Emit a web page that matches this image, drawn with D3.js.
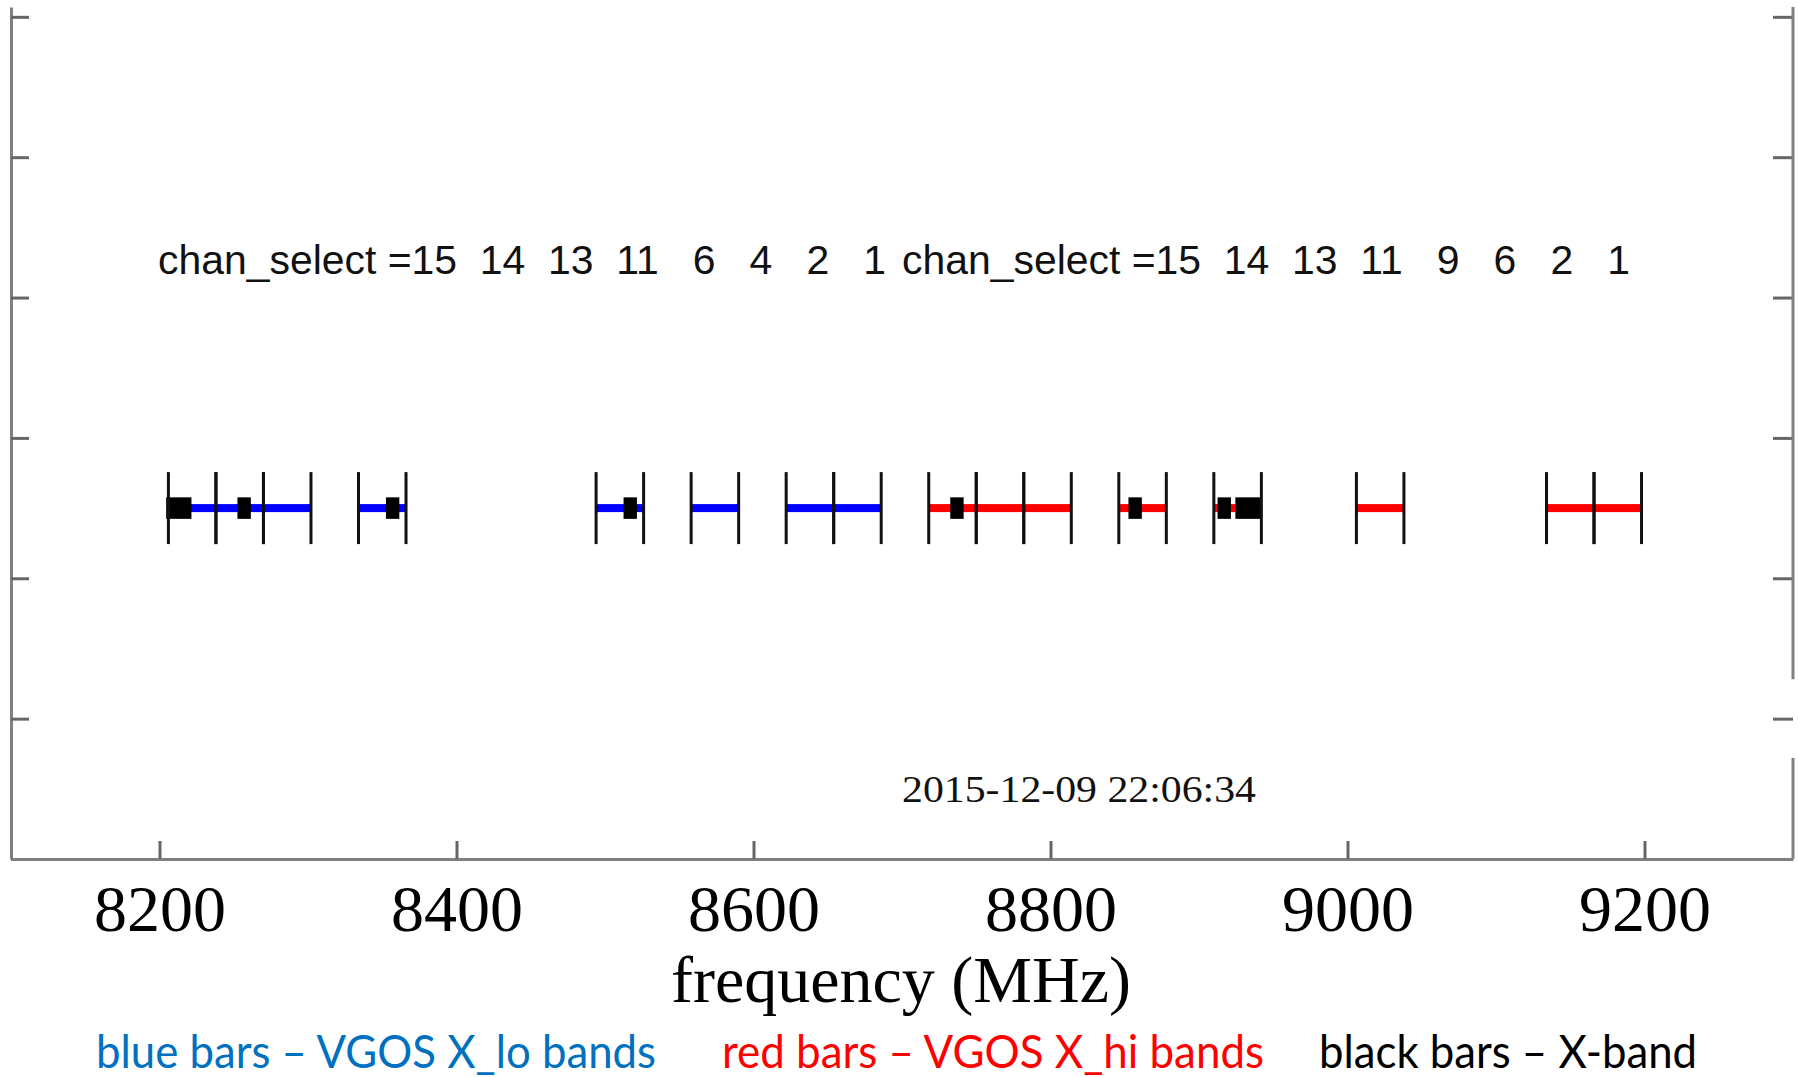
<!DOCTYPE html>
<html>
<head>
<meta charset="utf-8">
<script src="https://cdn.jsdelivr.net/npm/d3@7"></script>
<style>
  html, body { margin: 0; padding: 0; background: #fff; }
  svg { display: block; }
</style>
</head>
<body>
<div id="chart"></div>
<script>
// VGOS X_lo channels (MHz, lower / upper edge)
var loBands = [[8206, 8238], [8238, 8270], [8270, 8302], [8334, 8366],
               [8494, 8526], [8558, 8590], [8622, 8654], [8654, 8686]];
// VGOS X_hi channels
var hiBands = [[8718, 8750], [8750, 8782], [8782, 8814], [8846, 8878],
               [8910, 8942], [9006, 9038], [9134, 9166], [9166, 9198]];
// legacy X-band channels
var xBands = [[8205, 8221], [8253, 8261], [8353, 8361], [8513, 8521],
              [8733, 8741], [8853, 8861], [8913, 8921], [8925, 8941]];

var loChans = [15, 14, 13, 11, 6, 4, 2, 1];
var hiChans = [15, 14, 13, 11, 9, 6, 2, 1];

var xTicks = [8200, 8400, 8600, 8800, 9000, 9200];
var yTicks = [0, 1, 2, 3, 4, 5, 6];
var stamp = "2015-12-09 22:06:34";
var barLevel = 2.5;

var width = 1798, height = 1077;

var svg = d3.select("#chart").append("svg")
    .attr("width", width)
    .attr("height", height);

var x = d3.scaleLinear().domain([8100, 9300]).range([11, 1793]);
var y = d3.scaleLinear().domain([0, 6.07]).range([859, 7]);

var axisColor = "#808080";

// left axis, ticks pointing in
var left = svg.append("g")
    .attr("transform", "translate(" + x(8100) + ",0)")
    .call(d3.axisLeft(y).tickValues(yTicks).tickSizeInner(-18).tickSizeOuter(0).tickFormat(""));

// right axis, ticks pointing in, line broken near the time stamp
var right = svg.append("g")
    .attr("transform", "translate(" + x(9300) + ",0)")
    .call(d3.axisRight(y).tickValues(yTicks.slice(1)).tickSizeInner(-20).tickSizeOuter(0).tickFormat(""));
right.select(".domain").remove();
[[6.07, 1.28], [0.72, 0]].forEach(function(s) {
  right.append("line")
      .attr("y1", y(s[0])).attr("y2", y(s[1]))
      .attr("stroke", axisColor).attr("stroke-width", 3);
});

// bottom axis
var bottom = svg.append("g")
    .attr("transform", "translate(0," + y(0) + ")")
    .call(d3.axisBottom(x).tickValues(xTicks).tickSizeInner(-18).tickSizeOuter(0).tickFormat(d3.format("d")));

svg.selectAll(".domain").attr("stroke", axisColor).attr("stroke-width", 3);
svg.selectAll(".tick line").attr("stroke", "#666").attr("stroke-width", 3);

bottom.selectAll(".tick text")
    .attr("y", 72)
    .attr("dy", 0)
    .attr("fill", "#000")
    .style("font-family", "'Liberation Serif', 'Times New Roman', serif")
    .style("font-size", "66px");

svg.append("text")
    .attr("x", 901)
    .attr("y", 1002)
    .attr("text-anchor", "middle")
    .style("font-family", "'Liberation Serif', 'Times New Roman', serif")
    .style("font-size", "66px")
    .text("frequency (MHz)");

// channel bars
var yc = y(barLevel);

svg.selectAll(".lo")
  .data(loBands)
  .enter().append("rect")
    .attr("class", "lo")
    .attr("x", function(d) { return x(d[0]); })
    .attr("width", function(d) { return x(d[1]) - x(d[0]); })
    .attr("y", yc - 4)
    .attr("height", 8)
    .attr("fill", "#0000ff");

svg.selectAll(".hi")
  .data(hiBands)
  .enter().append("rect")
    .attr("class", "hi")
    .attr("x", function(d) { return x(d[0]); })
    .attr("width", function(d) { return x(d[1]) - x(d[0]); })
    .attr("y", yc - 4)
    .attr("height", 8)
    .attr("fill", "#ff0000");

svg.selectAll(".xb")
  .data(xBands)
  .enter().append("rect")
    .attr("class", "xb")
    .attr("x", function(d) { return x(d[0]); })
    .attr("width", function(d) { return x(d[1]) - x(d[0]); })
    .attr("y", yc - 10)
    .attr("height", 20)
    .attr("fill", "#000")
    .attr("stroke", "#000")
    .attr("stroke-width", 1.5);

// edge markers for every VGOS channel
var edges = [];
loBands.concat(hiBands).forEach(function(b) { edges.push(b[0], b[1]); });

svg.selectAll(".edge")
  .data(edges)
  .enter().append("line")
    .attr("class", "edge")
    .attr("x1", function(d) { return x(d); })
    .attr("x2", function(d) { return x(d); })
    .attr("y1", yc - 36)
    .attr("y2", yc + 36)
    .attr("stroke", "#111")
    .attr("stroke-width", 3);

// chan_select annotations
function chanText(list) {
  return "chan_select =" + list.map(function(n) { return (n < 10 ? " " : "") + n; }).join("  ");
}

[[158, loChans], [902, hiChans]].forEach(function(row) {
  svg.append("text")
      .attr("x", row[0])
      .attr("y", 274)
      .attr("textLength", 728)
      .attr("lengthAdjust", "spacingAndGlyphs")
      .attr("fill", "#111")
      .style("white-space", "pre")
      .style("font-family", "'Liberation Sans', Arial, sans-serif")
      .style("font-size", "40px")
      .text(chanText(row[1]));
});

svg.append("text")
    .attr("x", 902)
    .attr("y", 802)
    .attr("textLength", 354)
    .attr("lengthAdjust", "spacingAndGlyphs")
    .attr("fill", "#111")
    .style("font-family", "'Liberation Serif', 'Times New Roman', serif")
    .style("font-size", "37px")
    .text(stamp);

// legend line
var legend = [
  {text: "blue bars \u2013 VGOS X_lo bands", color: "#0070c0", x: 96, len: 560},
  {text: "red bars \u2013 VGOS X_hi bands", color: "#ff0000", x: 722, len: 542},
  {text: "black bars \u2013 X-band", color: "#000000", x: 1319, len: 378}
];

svg.selectAll(".legend")
  .data(legend)
  .enter().append("text")
    .attr("class", "legend")
    .attr("x", function(d) { return d.x; })
    .attr("y", 1068)
    .attr("textLength", function(d) { return d.len; })
    .attr("lengthAdjust", "spacingAndGlyphs")
    .attr("fill", function(d) { return d.color; })
    .style("font-family", "Lato, 'Open Sans', sans-serif")
    .style("font-size", "46px")
    .text(function(d) { return d.text; });
</script>
</body>
</html>
